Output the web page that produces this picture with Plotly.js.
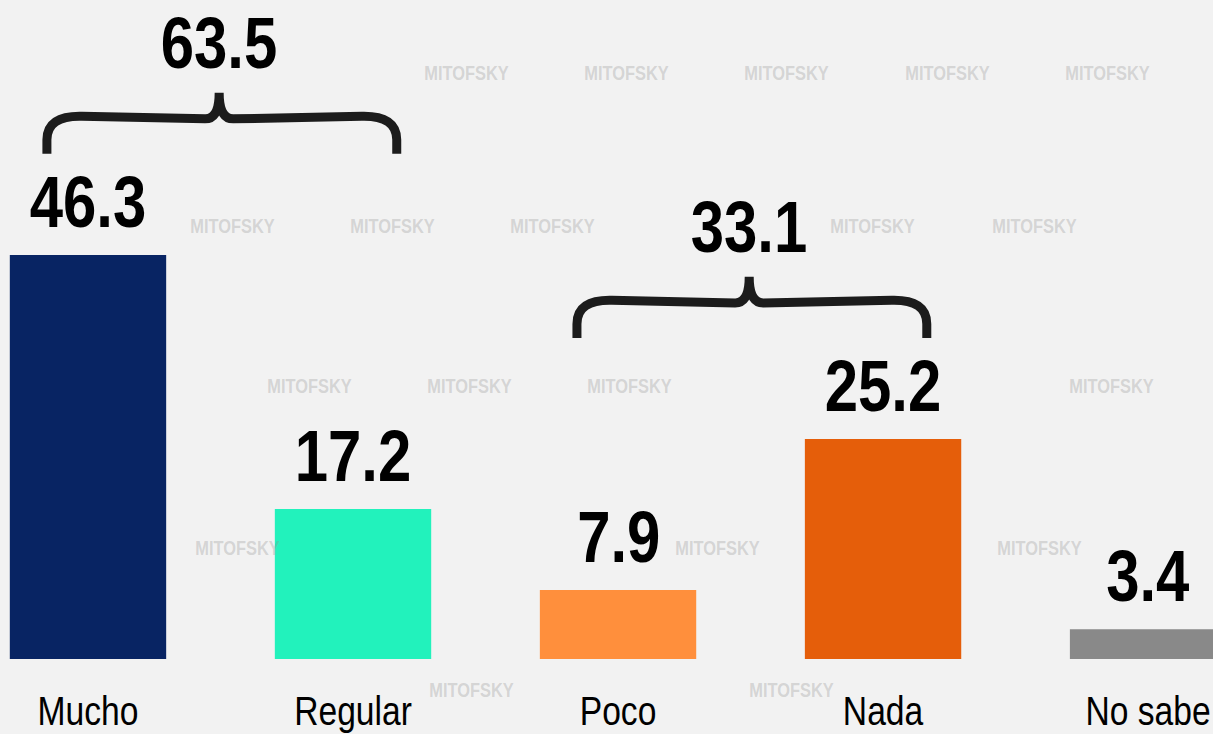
<!DOCTYPE html>
<html>
<head>
<meta charset="utf-8">
<script src="https://cdn.plot.ly/plotly-3.0.1.min.js"></script>
<style>html,body{margin:0;padding:0;background:#f2f2f2;}#chart{width:1213px;height:734px;}</style>
</head>
<body>
<div id="chart"></div>
<script>
// ---- data ----
const categories = ["Mucho", "Regular", "Poco", "Nada", "No sabe"];
const values = [46.3, 17.2, 7.9, 25.2, 3.4];
const barColors = ["#082463", "#22F2BC", "#FF8F3C", "#E55E0A", "#898989"];
const groupA = [0, 1];          // Mucho + Regular
const groupB = [2, 3];          // Poco + Nada
const groupTotals = ["63.5", "33.1"];

// ---- decoration (watermark positions, pixels of the page) ----
const wmRows = [
  {y: 73,  xs: [467, 627, 787, 948, 1108]},
  {y: 226, xs: [233, 393, 553, 873, 1035]},
  {y: 386, xs: [310, 470, 630, 1112]},
  {y: 548, xs: [238, 718, 1040]},
  {y: 690, xs: [472, 792]}
];

const FONT = "'Liberation Sans', Arial, sans-serif";
const NARROW = 0.82;
const PLOT_H = 659;
const xIdx = categories.map((_, i) => i);

const trace = {
  type: 'bar',
  x: xIdx,
  y: values,
  marker: {color: barColors, line: {width: 0}},
  width: 0.59,
  hoverinfo: 'skip',
  showlegend: false
};

const annotations = [];
// watermarks
wmRows.forEach(r => r.xs.forEach(px => {
  annotations.push({
    xref: 'paper', yref: 'paper', x: px / 1213, y: (PLOT_H - r.y) / PLOT_H,
    xanchor: 'center', yanchor: 'middle',
    text: '<b>MITOFSKY</b>', showarrow: false,
    font: {family: FONT, size: 20, color: 'rgba(140,140,140,0.30)'}
  });
}));
// value labels
values.forEach((v, i) => {
  annotations.push({
    x: i, y: v, xref: 'x', yref: 'y', xanchor: 'center', yanchor: 'bottom', yshift: 11,
    text: '<b>' + v.toFixed(1) + '</b>', showarrow: false,
    font: {family: FONT, size: 73, color: '#000'}
  });
});

// braces
function bracePath(group) {
  const m = Math.max(...group.map(i => values[i]));
  const xl = group[0] - 0.155, xr = group[group.length - 1] + 0.165;
  const xm = (group[0] + group[group.length - 1]) / 2 - 0.005;
  const w = xr - xl;
  const y0 = m + 11.6, y1 = m + 16, y2 = m + 18.6;
  const yv = y0 + 1.6;
  return `M ${xl},${y0} L ${xl},${yv} Q ${xl},${y1} ${xl + w * 0.1},${y1 - 0.1} ` +
         `L ${xm - w * 0.04},${y1 - 0.4} Q ${xm},${y1 - 0.4} ${xm},${y2} ` +
         `Q ${xm},${y1 - 0.4} ${xm + w * 0.04},${y1 - 0.4} L ${xr - w * 0.1},${y1 - 0.1} ` +
         `Q ${xr},${y1} ${xr},${yv} L ${xr},${y0}`;
}
const shapes = [groupA, groupB].map(g => ({
  type: 'path', xref: 'x', yref: 'y', path: bracePath(g),
  line: {color: '#1c1c1c', width: 9}, layer: 'above'
}));
[groupA, groupB].forEach((g, k) => {
  const m = Math.max(...g.map(i => values[i]));
  annotations.push({
    x: (g[0] + g[g.length - 1]) / 2 - 0.005, y: m + 19.5, xref: 'x', yref: 'y',
    xanchor: 'center', yanchor: 'bottom',
    text: '<b>' + groupTotals[k] + '</b>', showarrow: false,
    font: {family: FONT, size: 73, color: '#000'}
  });
});

const layout = {
  width: 1213, height: 734,
  margin: {l: 0, r: 0, t: 0, b: 734 - PLOT_H, pad: 0},
  paper_bgcolor: '#f2f2f2', plot_bgcolor: 'rgba(0,0,0,0)',
  xaxis: {
    range: [-0.332, 4.245], tickvals: xIdx, ticktext: categories,
    showgrid: false, zeroline: false, showline: false, ticks: '',
    ticklabelstandoff: 24, ticklabeloverflow: 'allow',
    tickfont: {family: FONT, size: 41, color: '#000'}, fixedrange: true
  },
  yaxis: {range: [0, 75.52], visible: false, fixedrange: true},
  annotations: annotations,
  shapes: shapes,
  showlegend: false
};

// condense text horizontally to imitate a narrow typeface
function narrow() {
  document.querySelectorAll('#chart .annotation-text, #chart .xtick text').forEach(el => {
    if (el.dataset.narrowed) return;
    const len = el.getComputedTextLength();
    el.setAttribute('textLength', (len * NARROW).toFixed(1));
    el.setAttribute('lengthAdjust', 'spacingAndGlyphs');
    el.dataset.narrowed = '1';
  });
}

Plotly.newPlot('chart', [trace], layout, {displayModeBar: false, staticPlot: true}).then(narrow);
</script>
</body>
</html>
